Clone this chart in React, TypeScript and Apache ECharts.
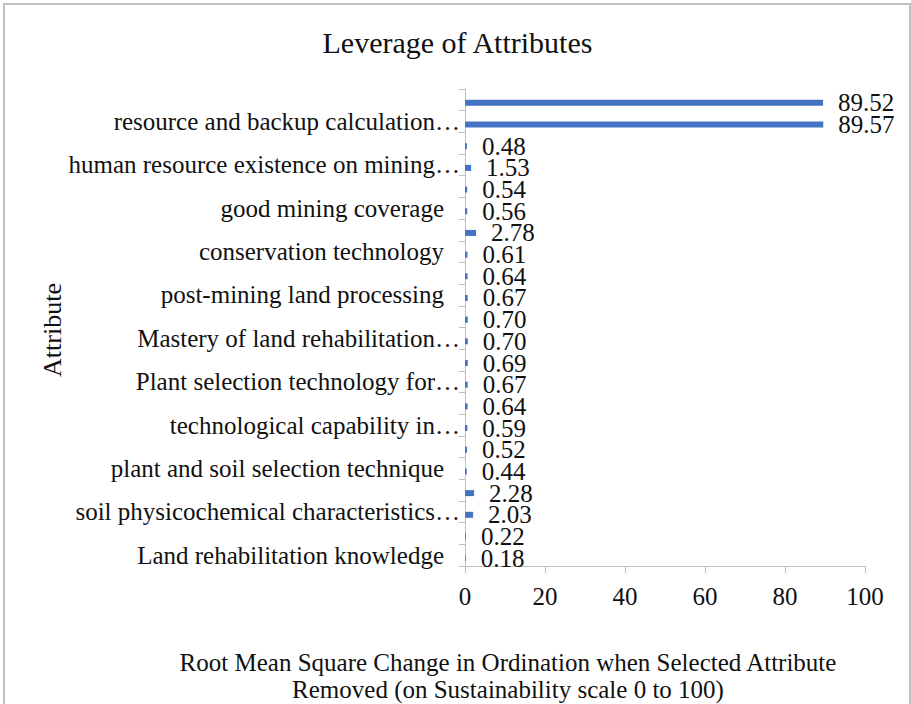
import React, { useEffect, useRef } from "react";
import * as echarts from "echarts";

// Categories bottom -> top. Only every other attribute name is shown in the reference.
const categories = [
  "Land rehabilitation knowledge", "",
  "soil physicochemical characteristics…", "",
  "plant and soil selection technique", "",
  "technological capability in…", "",
  "Plant selection technology for…", "",
  "Mastery of land rehabilitation…", "",
  "post-mining land processing", "",
  "conservation technology", "",
  "good mining coverage", "",
  "human resource existence on mining…", "",
  "resource and backup calculation…", "",
];
const values = [
  0.18, 0.22, 2.03, 2.28, 0.44, 0.52, 0.59, 0.64, 0.67, 0.69, 0.7,
  0.7, 0.67, 0.64, 0.61, 2.78, 0.56, 0.54, 1.53, 0.48, 89.57, 89.52,
];
const xMin = 0;
const xMax = 100;
const xInterval = 20;
const chartTitle = "Leverage of Attributes";
const xTitleLines = [
  "Root Mean Square Change in Ordination when Selected Attribute",
  "Removed (on Sustainability scale 0 to 100)",
];
const yTitle = "Attribute";

const FONT = '"Liberation Serif", "Times New Roman", serif';
const TEXT = "#111111";
const AXIS = "#bfbfbf";
const BAR = "#4472C4";

export default function App() {
  const ref = useRef<HTMLDivElement>(null);

  useEffect(() => {
    if (!ref.current) return;
    const chart = echarts.init(ref.current, null, { renderer: "svg" });
    chart.setOption({
      animation: false,
      backgroundColor: "#ffffff",
      grid: { left: 465, right: 46, top: 89, bottom: 138, outerBoundsMode: "none" },
      xAxis: {
        type: "value",
        min: xMin,
        max: xMax,
        interval: xInterval,
        axisLine: { show: true, lineStyle: { color: AXIS, width: 1 } },
        axisTick: { show: true, length: 7, lineStyle: { color: AXIS } },
        splitLine: { show: false },
        axisLabel: { fontSize: 25, fontFamily: FONT, color: TEXT, margin: 18 },
      },
      yAxis: {
        type: "category",
        data: categories,
        axisLine: { show: true, lineStyle: { color: AXIS, width: 1 } },
        axisTick: { show: true, interval: 0, length: 6, lineStyle: { color: AXIS } },
        splitLine: { show: false },
        axisLabel: {
          interval: 1,
          fontSize: 25,
          fontFamily: FONT,
          color: TEXT,
          margin: 5,
          formatter: (v: string) => {
            if (!v) return "";
            if (v.endsWith("…")) return v;
            return v + "{s| }";
          },
          rich: { s: { width: 16, fontSize: 25, fontFamily: FONT } },
        },
      },
      series: [
        {
          type: "bar",
          name: "spacer",
          data: [],
          barWidth: 6,
          barGap: "0%",
          silent: true,
        },
        {
          type: "bar",
          name: "Leverage",
          data: values,
          barWidth: 6,
          barGap: "0%",
          itemStyle: { color: BAR },
          label: {
            show: true,
            position: "right",
            distance: 15,
            fontSize: 25,
            lineHeight: 20,
            fontFamily: FONT,
            color: TEXT,
            formatter: (p: any) => Number(p.value).toFixed(2),
          },
        },
      ],
      graphic: [
        {
          type: "rect",
          shape: { x: 4, y: 4, width: 906, height: 720 },
          style: { fill: "none", stroke: "#c0c0c0", lineWidth: 2 },
          silent: true,
        },
        {
          type: "text",
          x: 457.5,
          y: 42,
          style: {
            text: chartTitle,
            fontSize: 30,
            fontFamily: FONT,
            fill: TEXT,
            align: "center",
            verticalAlign: "middle",
          },
        },
        {
          type: "text",
          x: 508,
          y: 662,
          style: {
            text: xTitleLines[0],
            fontSize: 25,
            fontFamily: FONT,
            fill: TEXT,
            align: "center",
            verticalAlign: "middle",
          },
        },
        {
          type: "text",
          x: 508,
          y: 689,
          style: {
            text: xTitleLines[1],
            fontSize: 25,
            fontFamily: FONT,
            fill: TEXT,
            align: "center",
            verticalAlign: "middle",
          },
        },
        {
          type: "text",
          x: 52,
          y: 330,
          rotation: Math.PI / 2,
          style: {
            text: yTitle,
            fontSize: 26,
            fontFamily: FONT,
            fill: TEXT,
            align: "center",
            verticalAlign: "middle",
          },
        },
      ],
    });
    return () => chart.dispose();
  }, []);

  return (
    <div
      ref={ref}
      style={{ position: "absolute", left: 0, top: 0, width: 911, height: 704, background: "#fff" }}
    />
  );
}
